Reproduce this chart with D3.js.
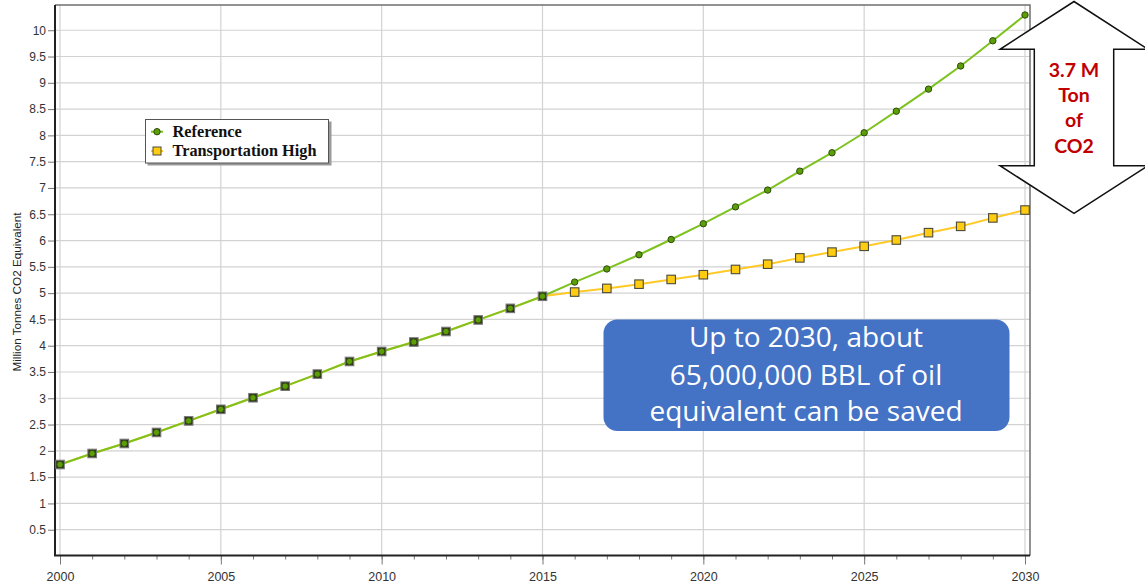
<!DOCTYPE html>
<html>
<head>
<meta charset="utf-8">
<script src="https://cdn.jsdelivr.net/npm/d3@7"></script>
<style>
  html, body { margin: 0; padding: 0; background: #fff; }
  svg { display: block; }
</style>
</head>
<body>
<svg id="chart" width="1145" height="587"></svg>
<script>
// ---- data ----
const years = [2000, 2001, 2002, 2003, 2004, 2005, 2006, 2007, 2008, 2009,
               2010, 2011, 2012, 2013, 2014, 2015, 2016, 2017, 2018, 2019,
               2020, 2021, 2022, 2023, 2024, 2025, 2026, 2027, 2028, 2029, 2030];
const referenceValues = [1.74, 1.95, 2.14, 2.35, 2.57, 2.79, 3.01, 3.23, 3.46, 3.70,
                         3.89, 4.07, 4.27, 4.49, 4.71, 4.94, 5.21, 5.46, 5.73, 6.02,
                         6.32, 6.64, 6.96, 7.32, 7.67, 8.05, 8.46, 8.88, 9.32, 9.80, 10.29];
const transportHighValues = [1.74, 1.95, 2.14, 2.35, 2.57, 2.79, 3.01, 3.23, 3.46, 3.70,
                             3.89, 4.07, 4.27, 4.49, 4.71, 4.94, 5.02, 5.09, 5.17, 5.26,
                             5.35, 5.45, 5.55, 5.67, 5.78, 5.89, 6.01, 6.15, 6.27, 6.43, 6.58];
const seriesNames = ["Reference", "Transportation High"];
const yTickValues = [0.5, 1, 1.5, 2, 2.5, 3, 3.5, 4, 4.5, 5, 5.5, 6, 6.5, 7, 7.5, 8, 8.5, 9, 9.5, 10];
const xMajorTicks = [2000, 2005, 2010, 2015, 2020, 2025, 2030];
const yAxisTitle = "Million Tonnes CO2 Equivalent";
const calloutLines = ["Up to 2030, about", "65,000,000 BBL of oil", "equivalent can be saved"];
const arrowLabelLines = ["3.7 M", "Ton", "of", "CO2"];

// ---- layout ----
const plot = { left: 55, right: 1030, top: 5, bottom: 555.5 };
const svg = d3.select("#chart");

const x = d3.scaleLinear().domain([2000, 2030]).range([60, 1025]);
const y = d3.scaleLinear().domain([0, 10.48]).range([556, 5]);

const refColor = "#7dc21e";
const refFill = "#5c9e06";
const thColor = "#ffc926";
const thFill = "#ffcc11";

// gridlines
const grid = svg.append("g");
grid.selectAll("line.h").data(yTickValues).join("line")
  .attr("x1", plot.left).attr("x2", plot.right)
  .attr("y1", d => y(d)).attr("y2", d => y(d))
  .attr("stroke", "#d2d2d2").attr("stroke-width", 1.2);
grid.selectAll("line.v").data(xMajorTicks).join("line")
  .attr("x1", d => x(d)).attr("x2", d => x(d))
  .attr("y1", plot.top).attr("y2", plot.bottom)
  .attr("stroke", "#d2d2d2").attr("stroke-width", 1.2);

// frame (top + right lighter, axes darker)
svg.append("path")
  .attr("d", `M${plot.left},${plot.top}H${plot.right}V${plot.bottom}`)
  .attr("fill", "none").attr("stroke", "#6f6f6f").attr("stroke-width", 1.5);

// y axis
const yAxis = svg.append("g")
  .attr("transform", `translate(${plot.left},0)`)
  .call(d3.axisLeft(y).tickValues(yTickValues).tickSize(7).tickPadding(2).tickFormat(d => String(d)));
yAxis.select(".domain").remove();
yAxis.selectAll(".tick line").attr("stroke", "#777");
yAxis.selectAll(".tick text")
  .attr("font-family", "'Liberation Sans', Arial, sans-serif")
  .attr("font-size", 12).attr("fill", "#333");

// x axis: minor yearly ticks, then labelled majors
const xMinor = svg.append("g")
  .attr("transform", `translate(0,${plot.bottom})`)
  .call(d3.axisBottom(x).tickValues(years).tickSize(4).tickFormat(""));
xMinor.select(".domain").remove();
xMinor.selectAll(".tick line").attr("stroke", "#777");

const xAxis = svg.append("g")
  .attr("transform", `translate(0,${plot.bottom})`)
  .call(d3.axisBottom(x).tickValues(xMajorTicks).tickSize(9).tickPadding(8).tickFormat(d3.format("d")));
xAxis.select(".domain").remove();
xAxis.selectAll(".tick line").attr("stroke", "#777");
xAxis.selectAll(".tick text")
  .attr("font-family", "'Liberation Sans', Arial, sans-serif")
  .attr("font-size", 12.5).attr("fill", "#333");

// axis lines
svg.append("path")
  .attr("d", `M${plot.left},${plot.top}V${plot.bottom}H${plot.right}`)
  .attr("fill", "none").attr("stroke", "#222").attr("stroke-width", 2);

// y axis title
svg.append("text")
  .attr("transform", "translate(16,292) rotate(-90)")
  .attr("text-anchor", "middle").attr("dominant-baseline", "central")
  .attr("font-family", "'Liberation Sans', Arial, sans-serif")
  .attr("font-size", 11.7).attr("fill", "#222")
  .text(yAxisTitle);

// series
const refData = years.map((yr, i) => ({ year: yr, value: referenceValues[i] }));
const thData = years.map((yr, i) => ({ year: yr, value: transportHighValues[i], shared: Math.abs(transportHighValues[i] - referenceValues[i]) < 0.005 }));
const line = d3.line().x(d => x(d.year)).y(d => y(d.value));

svg.append("path").datum(thData)
  .attr("d", line).attr("fill", "none").attr("stroke", thColor).attr("stroke-width", 2);
svg.append("path").datum(refData)
  .attr("d", line).attr("fill", "none").attr("stroke", refColor).attr("stroke-width", 2);

const sq = 8.5;
svg.append("g").selectAll("rect").data(thData).join("rect")
  .attr("x", d => x(d.year) - sq / 2).attr("y", d => y(d.value) - sq / 2)
  .attr("width", sq).attr("height", sq)
  .attr("fill", d => d.shared ? "#2e2c1c" : thFill)
  .attr("stroke", d => d.shared ? "#777" : "#4a4a3a").attr("stroke-width", 1.1);

svg.append("g").selectAll("circle").data(refData).join("circle")
  .attr("cx", d => x(d.year)).attr("cy", d => y(d.value)).attr("r", 3.2)
  .attr("fill", refFill).attr("stroke", "#2f4a10").attr("stroke-width", 1);

// legend
const legend = svg.append("g");
legend.append("rect").attr("x", 147.5).attr("y", 121.5).attr("width", 184).attr("height", 44).attr("fill", "#9a9a9a");
legend.append("rect").attr("x", 145.5).attr("y", 119.5).attr("width", 183).attr("height", 43.5)
  .attr("fill", "#fff").attr("stroke", "#555").attr("stroke-width", 1);
const rowY = [131.7, 151];
const baseY = [136.6, 155.8];
// Reference sample
legend.append("line").attr("x1", 151).attr("x2", 163).attr("y1", rowY[0]).attr("y2", rowY[0])
  .attr("stroke", refColor).attr("stroke-width", 2);
legend.append("circle").attr("cx", 157).attr("cy", rowY[0]).attr("r", 3.2)
  .attr("fill", refFill).attr("stroke", "#2f4a10").attr("stroke-width", 1);
// Transportation High sample
legend.append("line").attr("x1", 151).attr("x2", 163).attr("y1", rowY[1]).attr("y2", rowY[1])
  .attr("stroke", thColor).attr("stroke-width", 2);
legend.append("rect").attr("x", 157 - 4).attr("y", rowY[1] - 4).attr("width", 8).attr("height", 8)
  .attr("fill", thFill).attr("stroke", "#4a4a3a").attr("stroke-width", 1);
legend.selectAll("text").data(seriesNames).join("text")
  .attr("x", 172.5).attr("y", (d, i) => baseY[i])
  .attr("font-family", "'Liberation Serif', 'Times New Roman', serif")
  .attr("font-weight", "bold").attr("font-size", 16.3).attr("fill", "#111")
  .text(d => d);

// callout box
const box = svg.append("g");
box.append("rect").attr("x", 603.5).attr("y", 319.5).attr("width", 406).attr("height", 111.5)
  .attr("rx", 14).attr("fill", "#4472c4");
const boxBase = [347, 384.5, 421];
box.selectAll("text").data(calloutLines).join("text")
  .attr("x", 806).attr("y", (d, i) => boxBase[i])
  .attr("text-anchor", "middle")
  .attr("font-family", "'Open Sans', 'Noto Sans', sans-serif")
  .attr("font-size", 28).attr("fill", "#fff")
  .text(d => d);

// double-headed arrow with label
const ax = 1074, headHalf = 74, shaftHalf = 39.7;
const tipTop = 1.5, wingTop = 49.3, wingBot = 165.7, tipBot = 213.3;
const arrowPts = [
  [ax, tipTop], [ax + headHalf, wingTop], [ax + shaftHalf, wingTop], [ax + shaftHalf, wingBot],
  [ax + headHalf, wingBot], [ax, tipBot], [ax - headHalf, wingBot], [ax - shaftHalf, wingBot],
  [ax - shaftHalf, wingTop], [ax - headHalf, wingTop]
];
svg.append("polygon")
  .attr("points", arrowPts.map(p => p.join(",")).join(" "))
  .attr("fill", "#fff").attr("stroke", "#111").attr("stroke-width", 1.5)
  .attr("stroke-linejoin", "miter");
const arrowBase = [77.3, 101.7, 126.7, 152.5];
svg.append("g").selectAll("text").data(arrowLabelLines).join("text")
  .attr("x", ax).attr("y", (d, i) => arrowBase[i])
  .attr("text-anchor", "middle")
  .attr("font-family", "Lato, 'Open Sans', sans-serif")
  .attr("font-weight", "bold").attr("font-size", 19.5).attr("fill", "#c00000")
  .text(d => d);
</script>
</body>
</html>
